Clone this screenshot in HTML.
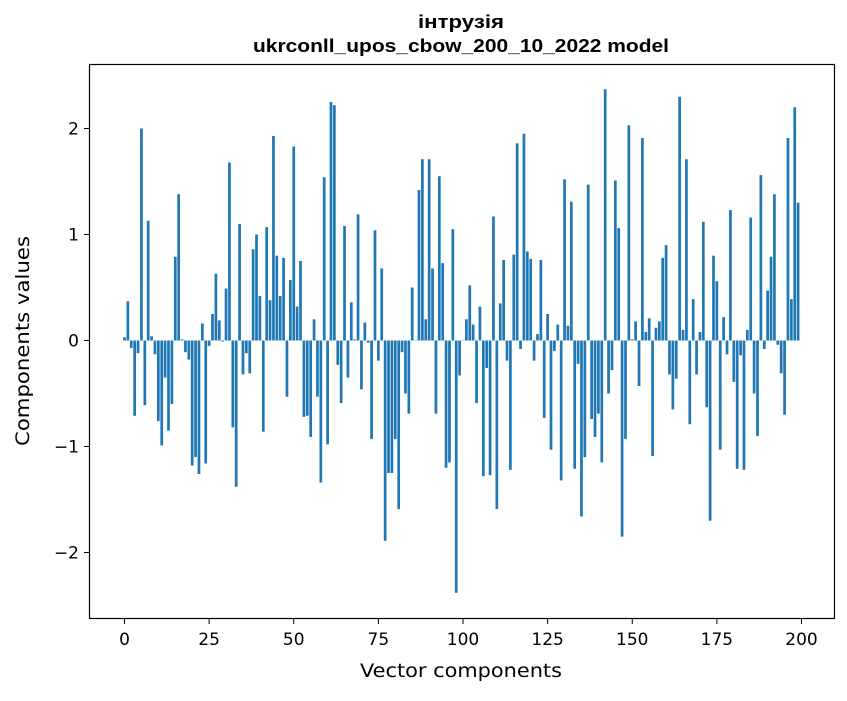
<!DOCTYPE html>
<html><head><meta charset="utf-8"><style>
body{margin:0;background:#fff}
svg text{font-family:"DejaVu Sans","Liberation Sans",sans-serif}
</style></head><body>
<svg id="chart" width="847" height="696" xmlns="http://www.w3.org/2000/svg">
<rect width="847" height="696" fill="#fff"/>
<text x="461" y="28" text-anchor="middle" font-size="18" font-weight="bold" style="font-family:'Liberation Sans',sans-serif" textLength="86" lengthAdjust="spacingAndGlyphs">інтрузія</text>
<text x="461" y="52" text-anchor="middle" font-size="18" font-weight="bold" style="font-family:'Liberation Sans',sans-serif" textLength="416" lengthAdjust="spacingAndGlyphs">ukrconll_upos_cbow_200_10_2022 model</text>
<g id="bars"></g>
<g id="axes"></g>
<rect x="89.5" y="64.5" width="745" height="554" fill="none" stroke="#000" stroke-width="1.2"/>
<text x="461" y="677" text-anchor="middle" font-size="19" textLength="202" lengthAdjust="spacingAndGlyphs">Vector components</text>
<text transform="translate(29,341) rotate(-90)" text-anchor="middle" font-size="19" textLength="210" lengthAdjust="spacingAndGlyphs">Components values</text>
</svg>
<script>
const values = [0.03,0.37,-0.07,-0.71,-0.12,2.0,-0.61,1.13,0.04,-0.13,
-0.76,-0.99,-0.35,-0.85,-0.6,0.79,1.38,0.01,-0.11,-0.18,
-1.18,-1.1,-1.26,0.16,-1.16,-0.05,0.25,0.63,0.19,-0.01,
0.49,1.68,-0.82,-1.38,1.1,-0.32,-0.12,-0.31,0.86,1.0,
0.42,-0.86,1.07,0.38,1.93,0.8,0.42,0.78,-0.53,0.57,
1.83,0.32,0.75,-0.72,-0.71,-0.91,0.2,-0.53,-1.34,1.54,
-0.98,2.25,2.22,-0.23,-0.59,1.08,-0.35,0.36,0.01,1.19,
-0.46,0.17,-0.02,-0.93,1.04,-0.19,0.68,-1.89,-1.25,-1.25,
-0.93,-1.59,-0.11,-0.5,-0.69,0.5,0.0,1.42,1.71,0.2,
1.71,0.68,-0.69,1.55,0.73,-1.2,-1.15,1.05,-2.38,-0.33,
0.0,0.2,0.52,0.15,-0.59,0.32,-1.28,-0.26,-1.27,1.17,
-1.59,0.35,0.76,-0.19,-1.22,0.81,1.86,-0.08,1.95,0.84,
0.77,-0.19,0.06,0.76,-0.73,0.25,-1.03,-0.1,0.15,-1.32,
1.52,0.14,1.31,-1.21,-0.22,-1.66,-1.1,1.47,-0.74,-0.91,
-0.69,-1.15,2.37,-0.5,-0.28,1.51,1.06,-1.85,-0.93,2.03,
0.01,0.18,-0.43,1.91,0.08,0.21,-1.09,0.12,0.18,0.78,
0.9,-0.32,-0.65,-0.36,2.3,0.1,1.71,-0.79,0.39,-0.32,
0.08,1.12,-0.63,-1.7,0.8,0.56,-1.03,0.22,-0.13,1.23,
-0.39,-1.21,-0.14,-1.22,0.1,1.16,-0.5,-0.9,1.56,-0.08,
0.47,0.79,1.38,-0.04,-0.31,-0.7,1.91,0.39,2.2,1.3];
const xTicks = [0,25,50,75,100,125,150,175,200];
const yTicks = [-2,-1,0,1,2];
const yTickLabels = ["\u22122","\u22121","0","1","2"];

const NS="http://www.w3.org/2000/svg";
const xs = v => 124.5 + 3.385*v;
const ys = v => 340.5 - 106*v;
const barsG=document.getElementById('bars');
values.forEach((v,i)=>{
  const r=document.createElementNS(NS,'rect');
  const y0=ys(0), y1=ys(v);
  r.setAttribute('x',xs(i-0.4));
  r.setAttribute('width',3.385*0.8);
  r.setAttribute('y',Math.min(y0,y1));
  r.setAttribute('height',Math.max(Math.abs(y1-y0),0.3));
  r.setAttribute('fill','#1f77b4');
  
  
  barsG.appendChild(r);
});
const ax=document.getElementById('axes');
xTicks.forEach(t=>{
  const l=document.createElementNS(NS,'line');
  l.setAttribute('x1',xs(t));l.setAttribute('x2',xs(t));
  l.setAttribute('y1',618.5);l.setAttribute('y2',624);
  l.setAttribute('stroke','#000');
  
  
  ax.appendChild(l);
  const tx=document.createElementNS(NS,'text');
  tx.setAttribute('x',xs(t));tx.setAttribute('y',645);
  tx.setAttribute('text-anchor','middle');tx.setAttribute('font-size','17');
  tx.textContent=t;
  
  
  ax.appendChild(tx);
});
yTicks.forEach((t,k)=>{
  const l=document.createElementNS(NS,'line');
  l.setAttribute('x1',84);l.setAttribute('x2',89.5);
  l.setAttribute('y1',ys(t));l.setAttribute('y2',ys(t));
  l.setAttribute('stroke','#000');
  
  
  ax.appendChild(l);
  const tx=document.createElementNS(NS,'text');
  tx.setAttribute('x',79);tx.setAttribute('y',ys(t)+6);
  tx.setAttribute('text-anchor','end');tx.setAttribute('font-size','17');
  tx.textContent=yTickLabels[k];
  
  
  ax.appendChild(tx);
});
</script>
</body></html>
